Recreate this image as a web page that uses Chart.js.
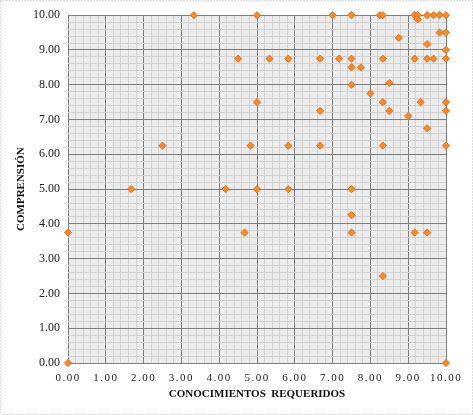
<!DOCTYPE html>
<html>
<head>
<meta charset="utf-8">
<script src="https://cdn.jsdelivr.net/npm/chart.js@4"></script>
<style>
html, body { margin: 0; padding: 0; background: #fff; }
#wrap { width: 473px; height: 415px; }
</style>
</head>
<body>
<div id="wrap"><canvas id="chart" width="473" height="415"></canvas></div>
<script>
// valores
const conocimientos = [0, 0, 1.67, 2.5, 3.33, 4.17, 4.5, 4.67, 4.83, 5, 5, 5, 5.33, 5.83, 5.83, 5.83,
  6.67, 6.67, 6.67, 7, 7.17, 7.5, 7.5, 7.5, 7.5, 7.5, 7.5, 7.5, 7.75, 8, 8.25, 8.33, 8.33, 8.33, 8.33, 8.33,
  8.5, 8.5, 8.75, 9, 9.17, 9.25, 9.25, 9.17, 9.33, 9.17, 9.5, 9.5, 9.5, 9.5, 9.5, 9.67, 9.67, 9.83, 9.83,
  10, 10, 10, 10, 10, 10, 10, 10];
const comprension = [0, 3.75, 5, 6.25, 10, 5, 8.75, 3.75, 6.25, 10, 7.5, 5, 8.75, 8.75, 6.25, 5,
  8.75, 7.25, 6.25, 10, 8.75, 10, 8.75, 8.5, 8, 5, 4.25, 3.75, 8.5, 7.75, 10, 10, 8.75, 7.5, 6.25, 2.5,
  8.05, 7.25, 9.35, 7.1, 10, 10, 9.88, 8.75, 7.5, 3.75, 10, 9.17, 8.75, 6.75, 3.75, 10, 8.75, 10, 9.5,
  10, 9.5, 9, 8.75, 7.5, 7.25, 6.25, 0];

const xTitle = 'CONOCIMIENTOS  REQUERIDOS';
const yTitle = 'COMPRENSIÓN';

const isMajor = v => Math.abs(v - Math.round(v)) < 1e-6;
const gridColor = ctx => isMajor(ctx.tick.value) ? '#7e7e7e' : '#d2d2d2';
const tickLabel = v => isMajor(v) ? Math.round(v).toFixed(2) : '';

const framePlugin = {
  id: 'frame',
  beforeDraw(chart) {
    const ctx = chart.ctx, a = chart.chartArea;
    ctx.save();
    ctx.fillStyle = '#fff';
    ctx.fillRect(0, 0, chart.width, chart.height);
    ctx.fillStyle = '#ececec';
    ctx.fillRect(a.left, a.top, a.right - a.left, a.bottom - a.top);
    ctx.strokeStyle = '#b8b8b8';
    ctx.setLineDash([1, 2]);
    ctx.strokeRect(0.5, 0.5, chart.width - 1, chart.height - 1);
    ctx.restore();
    // etiquetas del eje x algo espaciadas
    const xs = chart.scales.x;
    if (!xs._spaced) {
      const orig = xs.drawLabels;
      xs.drawLabels = function (area) {
        this.ctx.save();
        this.ctx.letterSpacing = '1.5px';
        orig.call(this, area);
        this.ctx.restore();
      };
      xs._spaced = true;
    }
  }
};

new Chart(document.getElementById('chart'), {
  type: 'scatter',
  data: {
    datasets: [{
      data: conocimientos.map((x, i) => ({x: x, y: comprension[i]})),
      pointStyle: 'rectRot',
      pointRadius: 3.6,
      backgroundColor: '#F58A2E',
      borderColor: '#E8701A',
      borderWidth: 1,
      clip: false
    }]
  },
  options: {
    responsive: false,
    animation: false,
    layout: {padding: {top: 13, right: 27, left: 0, bottom: 0}},
    plugins: {legend: {display: false}, tooltip: {enabled: false}},
    scales: {
      x: {
        min: 0, max: 10,
        afterFit: s => { s.height = 52; },
        grid: {color: gridColor, drawTicks: false},
        border: {display: false},
        ticks: {
          stepSize: 0.2, autoSkip: false, maxRotation: 0, padding: 9,
          color: '#222', font: {family: 'Liberation Serif', size: 11},
          callback: tickLabel
        },
        title: {
          display: true, text: xTitle, color: '#111',
          font: {family: 'Liberation Serif', size: 11, weight: 'bold'},
          padding: {top: 0, bottom: 14}
        }
      },
      y: {
        min: 0, max: 10,
        afterFit: s => { s.width = 68; },
        grid: {color: gridColor, drawTicks: false},
        border: {display: false},
        ticks: {
          stepSize: 0.2, autoSkip: false, padding: 8,
          color: '#222', font: {family: 'Liberation Serif', size: 12},
          callback: tickLabel
        },
        title: {
          display: true, text: yTitle, color: '#111',
          font: {family: 'Liberation Serif', size: 11, weight: 'bold'},
          padding: {top: 15, bottom: 0}
        }
      }
    }
  },
  plugins: [framePlugin]
});
</script>
</body>
</html>
